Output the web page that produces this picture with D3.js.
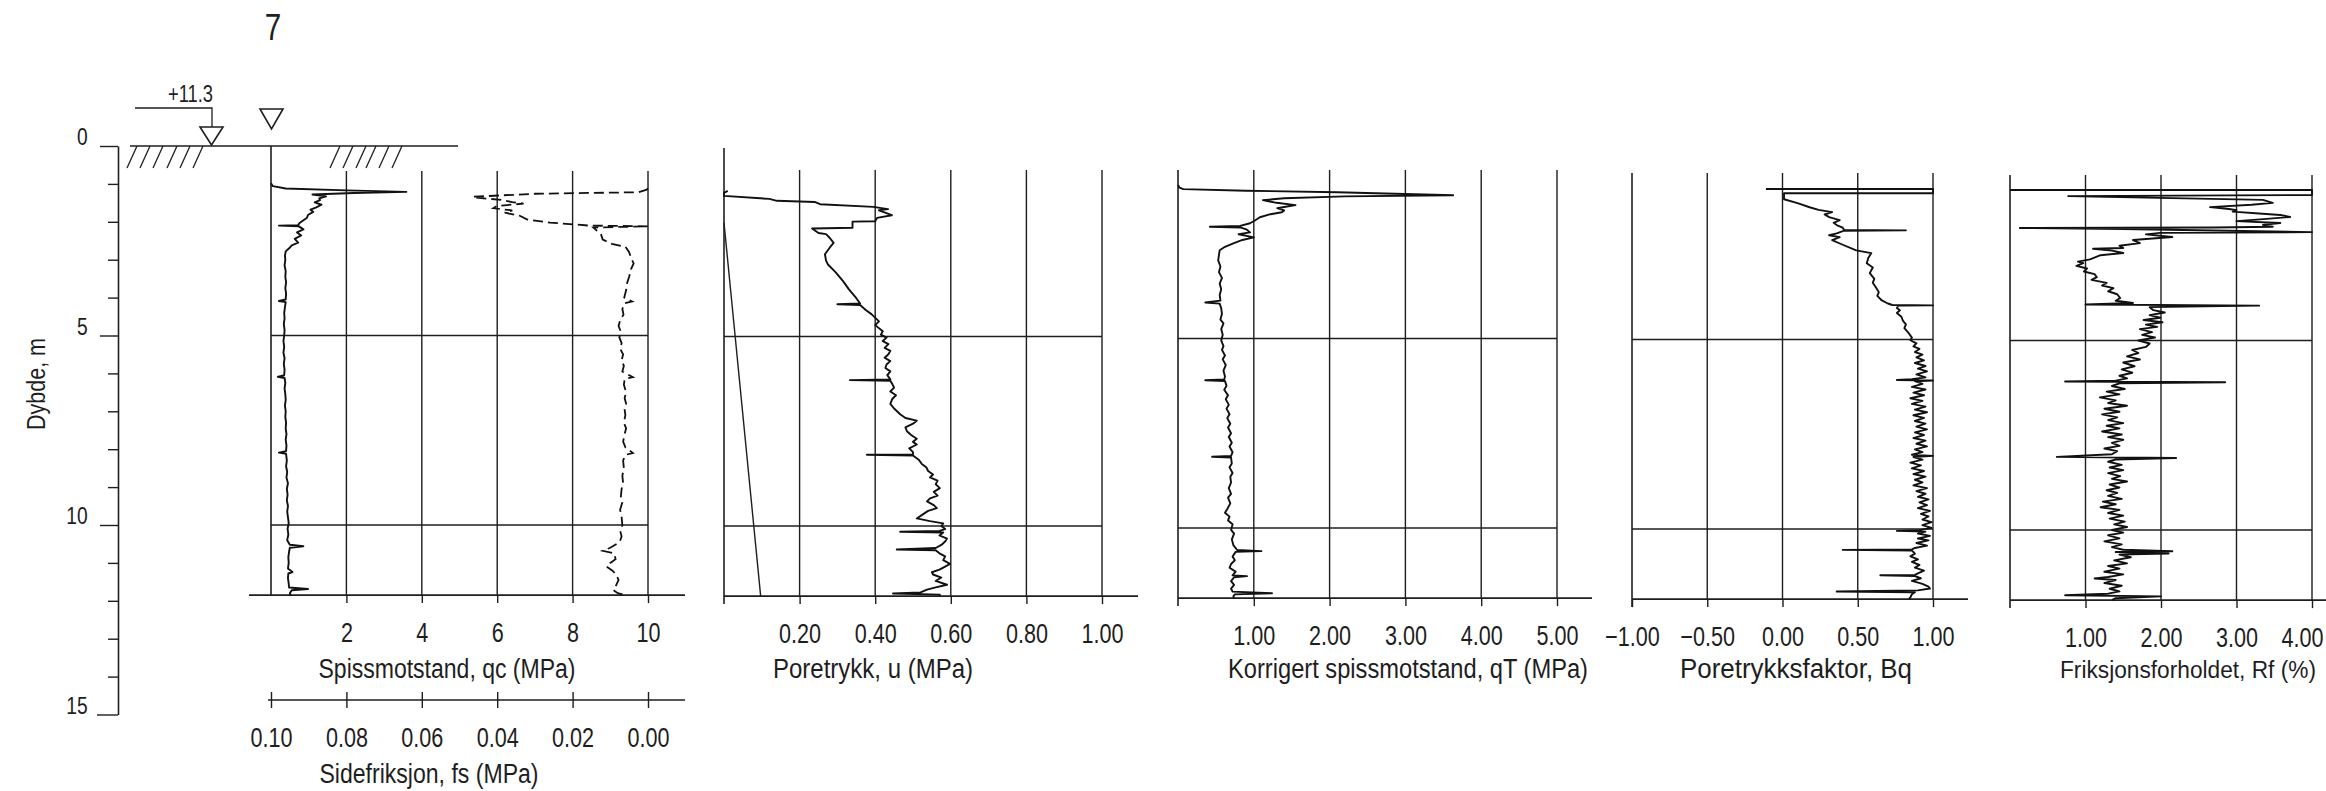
<!DOCTYPE html>
<html><head><meta charset="utf-8">
<script src="https://cdn.jsdelivr.net/npm/d3@7"></script>
<style>
html,body{margin:0;padding:0;background:#fff;}
svg{display:block;}
text{font-family:"Liberation Sans",Arial,"DejaVu Sans",sans-serif;fill:#1e1e1e;}
</style></head><body>
<svg id="chart" width="2326" height="791"></svg>
<script>
// ---------------- DATA ----------------
const sheetNumber = "7";
const elevationLabel = "+11.3";
const depthTicks = [0,1,2,3,4,5,6,7,8,9,10,11,12,13,14,15];
const depthLabels = [0,5,10,15];
const gridDepths = [5,10];
const endDepth = 11.85;
const qcTicks = [2,4,6,8,10];
const fsTicks = [0.10,0.08,0.06,0.04,0.02,0.00];
const uTicks = [0.2,0.4,0.6,0.8,1.0];
const qtTicks = [1,2,3,4,5];
const bqTicks = [-1,-0.5,0,0.5,1];
const rfTicks = [1,2,3,4];

// [depth m, qc MPa]
const qcData = [[0.98,0.00],[1.06,0.05],[1.12,0.39],[1.17,2.0],[1.21,3.59],[1.24,2.2],[1.28,1.10],[1.33,1.46],[1.38,1.28],[1.43,1.30],[1.49,1.16],[1.55,1.34],[1.62,1.20],[1.68,1.05],[1.74,1.12],[1.82,0.98],[1.90,0.95],[1.96,0.86],[2.04,0.75],[2.09,0.72],[2.10,0.21],[2.12,0.74],[2.20,0.86],[2.28,0.69],[2.36,0.80],[2.45,0.63],[2.55,0.72],[2.62,0.55],[2.70,0.48],[2.78,0.39],[2.9,0.37],[3.0,0.38],[3.15,0.36],[3.3,0.39],[3.45,0.38],[3.6,0.40],[3.75,0.38],[3.9,0.40],[4.05,0.39],[4.09,0.21],[4.12,0.39],[4.25,0.37],[4.4,0.35],[4.55,0.36],[4.7,0.34],[4.85,0.36],[5.0,0.35],[5.15,0.33],[5.3,0.35],[5.45,0.33],[5.6,0.36],[5.75,0.34],[5.9,0.36],[6.05,0.35],[6.09,0.18],[6.12,0.36],[6.25,0.38],[6.4,0.36],[6.55,0.38],[6.7,0.39],[6.85,0.37],[7.0,0.39],[7.15,0.38],[7.3,0.40],[7.45,0.39],[7.6,0.41],[7.75,0.39],[7.9,0.41],[8.05,0.40],[8.09,0.21],[8.12,0.40],[8.3,0.42],[8.45,0.40],[8.6,0.43],[8.75,0.41],[8.9,0.45],[9.05,0.42],[9.2,0.44],[9.35,0.42],[9.5,0.45],[9.65,0.43],[9.8,0.45],[9.95,0.47],[10.1,0.44],[10.25,0.46],[10.4,0.43],[10.52,0.50],[10.56,0.86],[10.6,0.50],[10.7,0.48],[10.85,0.46],[11.0,0.47],[11.15,0.45],[11.24,0.57],[11.28,0.46],[11.4,0.45],[11.55,0.47],[11.65,0.48],[11.69,0.98],[11.72,0.55],[11.8,0.50],[11.85,0.52]];

// [depth m, fs MPa]
const fsData = [[1.12,0.0],[1.16,0.0005],[1.22,0.0025],[1.26,0.030],[1.34,0.0465],[1.37,0.045],[1.42,0.039],[1.48,0.036],[1.52,0.033],[1.58,0.040],[1.64,0.041],[1.70,0.036],[1.76,0.038],[1.84,0.034],[1.94,0.032],[2.02,0.026],[2.10,0.0156],[2.12,0.0],[2.15,0.0145],[2.24,0.0135],[2.32,0.0125],[2.47,0.012],[2.58,0.0096],[2.66,0.006],[2.8,0.005],[2.95,0.0045],[3.1,0.0038],[3.25,0.0045],[3.45,0.005],[3.6,0.0055],[3.8,0.0058],[4.0,0.0063],[4.1,0.0042],[4.15,0.0062],[4.3,0.0068],[4.45,0.0065],[4.6,0.0074],[4.75,0.0078],[4.9,0.0072],[5.05,0.0076],[5.2,0.0070],[5.35,0.0074],[5.5,0.0066],[5.65,0.0070],[5.8,0.0064],[5.95,0.0068],[6.1,0.0040],[6.15,0.0062],[6.3,0.0064],[6.5,0.0058],[6.65,0.0062],[6.8,0.0058],[6.95,0.0062],[7.1,0.0060],[7.3,0.0064],[7.45,0.0058],[7.6,0.0062],[7.8,0.0066],[7.95,0.0060],[8.1,0.0040],[8.15,0.0060],[8.3,0.0066],[8.5,0.0064],[8.7,0.0068],[8.9,0.0066],[9.05,0.0070],[9.25,0.0072],[9.4,0.0068],[9.6,0.0074],[9.8,0.0070],[10.0,0.0068],[10.15,0.0074],[10.3,0.0070],[10.45,0.0075],[10.6,0.0100],[10.68,0.0120],[10.75,0.0090],[10.9,0.0086],[11.0,0.0100],[11.1,0.0110],[11.2,0.0095],[11.3,0.0085],[11.45,0.0078],[11.6,0.0085],[11.72,0.0092],[11.8,0.0080],[11.85,0.0060]];

// [depth m, u MPa]
const uData = [[1.16,0.01],[1.21,0.0],[1.29,0.0],[1.37,0.12],[1.42,0.14],[1.45,0.24],[1.51,0.254],[1.58,0.395],[1.64,0.434],[1.67,0.41],[1.8,0.444],[1.87,0.405],[1.96,0.40],[1.97,0.34],[2.13,0.34],[2.15,0.233],[2.27,0.25],[2.3,0.27],[2.4,0.28],[2.53,0.29],[2.65,0.28],[2.83,0.267],[3.0,0.27],[3.1,0.275],[3.3,0.295],[3.54,0.315],[3.75,0.33],[3.99,0.35],[4.13,0.36],[4.15,0.30],[4.17,0.36],[4.3,0.375],[4.41,0.39],[4.6,0.41],[4.7,0.40],[4.86,0.42],[4.95,0.415],[5.03,0.43],[5.12,0.42],[5.2,0.435],[5.3,0.425],[5.38,0.44],[5.47,0.435],[5.56,0.425],[5.65,0.44],[5.74,0.43],[5.83,0.427],[5.92,0.44],[6.02,0.432],[6.13,0.44],[6.15,0.333],[6.17,0.44],[6.25,0.445],[6.35,0.45],[6.45,0.44],[6.55,0.455],[6.65,0.445],[6.78,0.44],[6.9,0.45],[7.05,0.466],[7.15,0.48],[7.22,0.51],[7.3,0.50],[7.4,0.48],[7.5,0.484],[7.6,0.495],[7.7,0.51],[7.78,0.50],[7.85,0.51],[7.95,0.49],[8.05,0.50],[8.11,0.50],[8.12,0.378],[8.14,0.50],[8.25,0.515],[8.37,0.524],[8.45,0.535],[8.55,0.54],[8.64,0.553],[8.72,0.545],[8.8,0.565],[8.9,0.56],[9.0,0.571],[9.1,0.555],[9.2,0.565],[9.27,0.545],[9.35,0.537],[9.45,0.555],[9.53,0.563],[9.6,0.54],[9.7,0.525],[9.8,0.51],[9.87,0.545],[9.93,0.58],[10.0,0.575],[10.08,0.585],[10.13,0.57],[10.15,0.466],[10.17,0.58],[10.25,0.57],[10.33,0.59],[10.41,0.585],[10.5,0.575],[10.58,0.56],[10.62,0.457],[10.64,0.56],[10.72,0.57],[10.8,0.585],[10.9,0.58],[11.0,0.598],[11.07,0.585],[11.15,0.57],[11.22,0.55],[11.28,0.553],[11.36,0.575],[11.45,0.56],[11.55,0.59],[11.62,0.56],[11.68,0.537],[11.75,0.52],[11.78,0.447],[11.81,0.571],[11.85,0.57]];

// hydrostatic pore pressure [depth m, u0 MPa]
const u0Data = [[2.0,0.0],[11.85,0.097]];

// [depth m, qT MPa]
const qtData = [[0.95,0.0],[1.02,0.02],[1.06,0.07],[1.10,0.9],[1.14,2.1],[1.22,3.63],[1.25,2.2],[1.30,1.4],[1.35,1.12],[1.42,1.30],[1.48,1.55],[1.53,1.40],[1.56,1.31],[1.62,1.40],[1.67,1.37],[1.72,1.22],[1.80,1.08],[1.88,1.02],[1.96,0.95],[2.03,0.82],[2.05,0.42],[2.07,0.82],[2.12,0.90],[2.20,0.95],[2.25,0.80],[2.33,1.0],[2.40,0.85],[2.49,0.73],[2.58,0.62],[2.67,0.55],[2.8,0.54],[2.94,0.53],[3.1,0.56],[3.25,0.54],[3.4,0.58],[3.55,0.55],[3.7,0.57],[3.85,0.55],[4.0,0.56],[4.05,0.36],[4.08,0.55],[4.2,0.57],[4.35,0.58],[4.5,0.56],[4.6,0.60],[4.75,0.57],[4.9,0.59],[5.05,0.57],[5.2,0.60],[5.3,0.58],[5.45,0.62],[5.55,0.59],[5.7,0.63],[5.85,0.60],[6.0,0.62],[6.08,0.61],[6.1,0.36],[6.12,0.62],[6.25,0.64],[6.35,0.61],[6.5,0.66],[6.6,0.63],[6.75,0.67],[6.85,0.64],[7.0,0.68],[7.1,0.65],[7.25,0.69],[7.35,0.66],[7.5,0.70],[7.6,0.67],[7.75,0.71],[7.85,0.68],[8.0,0.72],[8.1,0.70],[8.12,0.45],[8.14,0.70],[8.3,0.71],[8.4,0.68],[8.55,0.72],[8.65,0.69],[8.8,0.70],[8.95,0.67],[9.1,0.70],[9.2,0.66],[9.35,0.69],[9.5,0.65],[9.6,0.62],[9.7,0.68],[9.8,0.66],[9.9,0.72],[10.05,0.70],[10.15,0.74],[10.3,0.71],[10.45,0.73],[10.58,0.78],[10.61,1.10],[10.63,0.76],[10.75,0.72],[10.85,0.75],[10.95,0.70],[11.05,0.68],[11.15,0.76],[11.25,0.72],[11.27,0.91],[11.3,0.74],[11.4,0.70],[11.5,0.74],[11.6,0.70],[11.68,0.72],[11.72,1.24],[11.75,0.75],[11.8,0.73],[11.85,0.74]];

// [depth m, Bq]
const bqData = [[1.03,-0.11],[1.03,1.0],[1.14,1.0],[1.14,0.01],[1.30,0.01],[1.40,0.10],[1.51,0.18],[1.58,0.24],[1.64,0.33],[1.70,0.28],[1.77,0.31],[1.85,0.38],[1.92,0.34],[1.98,0.36],[2.05,0.40],[2.11,0.41],[2.12,0.82],[2.13,0.41],[2.20,0.36],[2.25,0.31],[2.30,0.38],[2.38,0.33],[2.50,0.40],[2.65,0.49],[2.72,0.59],[2.85,0.57],[2.99,0.56],[3.1,0.60],[3.25,0.58],[3.4,0.61],[3.5,0.60],[3.62,0.62],[3.75,0.64],[3.85,0.63],[3.97,0.66],[4.05,0.70],[4.09,0.73],[4.10,1.0],[4.11,0.77],[4.17,0.76],[4.23,0.78],[4.3,0.76],[4.4,0.79],[4.5,0.80],[4.6,0.82],[4.7,0.81],[4.84,0.84],[4.95,0.86],[5.02,0.85],[5.1,0.89],[5.18,0.87],[5.25,0.91],[5.33,0.88],[5.4,0.93],[5.47,0.89],[5.55,0.94],[5.62,0.88],[5.7,0.95],[5.77,0.90],[5.84,0.96],[5.92,0.89],[6.0,0.95],[6.05,0.86],[6.07,0.76],[6.08,1.0],[6.1,0.88],[6.17,0.93],[6.25,0.86],[6.32,0.95],[6.4,0.87],[6.47,0.94],[6.55,0.85],[6.62,0.93],[6.7,0.86],[6.77,0.95],[6.85,0.88],[6.92,0.96],[7.0,0.87],[7.07,0.94],[7.15,0.88],[7.22,0.95],[7.3,0.89],[7.37,0.96],[7.45,0.88],[7.52,0.94],[7.6,0.87],[7.67,0.95],[7.75,0.89],[7.82,0.96],[7.9,0.88],[7.97,0.93],[8.04,0.86],[8.07,1.0],[8.1,0.87],[8.17,0.93],[8.25,0.85],[8.32,0.92],[8.4,0.86],[8.47,0.94],[8.55,0.87],[8.62,0.95],[8.7,0.88],[8.77,0.93],[8.85,0.87],[8.92,0.96],[9.0,0.89],[9.07,0.95],[9.15,0.90],[9.22,0.97],[9.3,0.91],[9.37,0.96],[9.45,0.90],[9.52,0.98],[9.6,0.92],[9.67,0.97],[9.75,0.93],[9.82,0.99],[9.9,0.93],[9.97,0.99],[10.03,0.91],[10.05,0.76],[10.07,0.95],[10.12,0.90],[10.18,0.98],[10.25,0.90],[10.3,0.97],[10.37,0.89],[10.44,0.96],[10.5,0.88],[10.54,0.86],[10.55,0.40],[10.57,0.86],[10.65,0.88],[10.72,0.85],[10.8,0.90],[10.87,0.86],[10.95,0.91],[11.02,0.88],[11.1,0.94],[11.17,0.90],[11.21,0.88],[11.22,0.65],[11.24,0.88],[11.3,0.92],[11.37,0.86],[11.45,0.93],[11.52,0.97],[11.57,0.98],[11.62,0.90],[11.65,0.36],[11.67,0.88],[11.72,0.86],[11.8,0.85],[11.85,0.84]];

// [depth m, Rf %]
const rfData = [[1.03,0.0],[1.03,4.0],[1.16,4.0],[1.19,0.77],[1.29,3.35],[1.37,3.48],[1.42,3.2],[1.48,2.65],[1.53,2.9],[1.56,3.0],[1.60,2.95],[1.65,3.3],[1.69,3.58],[1.74,3.71],[1.79,3.4],[1.85,3.0],[1.90,3.58],[1.95,3.35],[2.0,3.48],[2.02,2.7],[2.03,0.13],[2.06,1.5],[2.14,4.0],[2.16,1.99],[2.2,1.80],[2.27,2.15],[2.35,1.63],[2.43,1.72],[2.5,1.45],[2.56,1.5],[2.58,1.10],[2.63,1.35],[2.69,1.5],[2.75,1.2],[2.86,1.06],[2.92,0.90],[2.96,0.97],[3.03,0.88],[3.1,1.02],[3.18,0.98],[3.25,1.12],[3.33,1.15],[3.4,1.08],[3.48,1.28],[3.55,1.22],[3.62,1.37],[3.7,1.30],[3.78,1.42],[3.88,1.46],[3.95,1.40],[4.01,1.63],[4.05,1.0],[4.08,3.3],[4.12,1.85],[4.2,1.90],[4.26,2.05],[4.33,1.85],[4.4,1.99],[4.46,1.77],[4.52,2.02],[4.58,1.80],[4.64,1.95],[4.7,1.72],[4.78,1.88],[4.85,1.75],[4.92,1.92],[5.0,1.70],[5.08,1.85],[5.17,1.80],[5.25,1.62],[5.33,1.70],[5.42,1.55],[5.5,1.72],[5.58,1.50],[5.68,1.65],[5.76,1.48],[5.85,1.62],[5.93,1.45],[6.0,1.55],[6.06,1.40],[6.08,0.73],[6.1,2.85],[6.13,1.45],[6.2,1.35],[6.28,1.52],[6.35,1.28],[6.42,1.45],[6.5,1.19],[6.58,1.40],[6.65,1.30],[6.72,1.55],[6.8,1.25],[6.88,1.45],[6.95,1.22],[7.03,1.42],[7.1,1.30],[7.18,1.50],[7.25,1.28],[7.32,1.45],[7.4,1.22],[7.48,1.48],[7.55,1.30],[7.62,1.50],[7.7,1.35],[7.78,1.45],[7.85,1.25],[7.92,1.42],[8.0,1.35],[8.07,0.62],[8.1,2.2],[8.14,1.40],[8.2,1.30],[8.28,1.48],[8.35,1.32],[8.42,1.50],[8.5,1.30],[8.58,1.46],[8.65,1.35],[8.72,1.55],[8.8,1.32],[8.88,1.45],[8.95,1.28],[9.02,1.42],[9.1,1.30],[9.18,1.48],[9.25,1.23],[9.32,1.40],[9.4,1.20],[9.47,1.45],[9.55,1.30],[9.62,1.50],[9.7,1.32],[9.78,1.52],[9.85,1.38],[9.92,1.55],[10.0,1.35],[10.07,1.50],[10.14,1.30],[10.22,1.45],[10.3,1.25],[10.38,1.48],[10.45,1.35],[10.52,1.50],[10.56,2.15],[10.58,1.40],[10.62,2.10],[10.65,1.45],[10.72,1.60],[10.8,1.38],[10.88,1.55],[10.95,1.30],[11.02,1.45],[11.1,1.25],[11.17,1.50],[11.24,1.30],[11.28,1.12],[11.32,1.40],[11.4,1.25],[11.47,1.48],[11.55,1.32],[11.62,1.45],[11.68,1.30],[11.72,0.73],[11.75,2.0],[11.8,1.40],[11.85,1.35]];

// ---------------- LAYOUT ----------------
const Y0 = 146, PXM = 37.9;
const INK = "#1e1e1e";
const svg = d3.select("#chart");
const FS = 27, SX = 0.8;   // font size, horizontal squeeze (narrow drafting lettering)

const panels = [
  {data:qcData, domain:[0,10], x0:271, x1:648, off:0, gtop:171, axisTop:146, lineL:249, lineR:685, ticks:qcTicks, fmt:"d", leftTick:false, title:"Spissmotstand, qc (MPa)", titleX:447, titleW:257},
  {data:uData, domain:[0,1], x0:724, x1:1102, off:1, gtop:170, axisTop:148, lineL:724, lineR:1138, ticks:uTicks, fmt:".2f", leftTick:true, title:"Poretrykk, u (MPa)", titleX:873, titleW:200, extra:u0Data},
  {data:qtData, domain:[0,5], x0:1178, x1:1557, off:3, gtop:170, axisTop:170, lineL:1178, lineR:1592, ticks:qtTicks, fmt:".2f", leftTick:true, title:"Korrigert spissmotstand, qT (MPa)", titleX:1408, titleW:360},
  {data:bqData, domain:[-1,1], x0:1632, x1:1933, off:4, gtop:173, axisTop:173, lineL:1632, lineR:1968, ticks:bqTicks, fmt:".2f", leftTick:true, title:"Poretrykksfaktor, Bq", titleX:1796, titleW:232},
  {data:rfData, domain:[0,4], x0:2010, x1:2312, off:5, gtop:175, axisTop:175, lineL:2010, lineR:2326, ticks:rfTicks, fmt:".2f", leftTick:true, title:"Friksjonsforholdet, Rf (%)", titleX:2060, titleW:256, titleFS:23, titleAnchor:"start", lastEnd:2323}
];

function ln(g, x1, y1, x2, y2, w){
  return g.append("line").attr("x1",x1).attr("y1",y1).attr("x2",x2).attr("y2",y2)
    .attr("stroke",INK).attr("stroke-width",w||1.4);
}
function title(g, x, y, txt, w, anchor, fs){
  return g.append("text").attr("x",x).attr("y",y).attr("text-anchor",anchor||"middle")
    .attr("font-size",fs||FS).attr("textLength",w).attr("lengthAdjust","spacingAndGlyphs").text(txt);
}

panels.forEach((p,i) => {
  const x = d3.scaleLinear().domain(p.domain).range([p.x0,p.x1]);
  const y = d3.scaleLinear().domain([0,15]).range([Y0+p.off, Y0+p.off+PXM*15]);
  p.xs = x; p.ys = y;
  const yb = y(endDepth);
  const g = svg.append("g");
  p.ticks.filter(t => t !== p.domain[0]).forEach(t => ln(g, x(t), p.gtop, x(t), yb, 1.4));
  ln(g, x(p.domain[0]), p.axisTop, x(p.domain[0]), yb + (p.leftTick ? 8 : 0), 1.6);
  gridDepths.forEach(d => ln(g, x(p.domain[0]), y(d), x(p.domain[1]), y(d), 1.4));
  ln(g, p.lineL, yb, p.lineR, yb, 1.8);
  const ax = d3.axisBottom(x).tickValues(p.ticks).tickSize(8).tickPadding(20)
    .tickFormat(d3.format(p.fmt)).tickSizeOuter(0);
  const ag = g.append("g").attr("transform",`translate(0,${yb})`).call(ax)
    .attr("font-size",FS).attr("font-family",null).attr("color",INK);
  ag.select(".domain").remove();
  ag.selectAll(".tick line").attr("stroke-width",1.4);
  ag.selectAll(".tick text").attr("transform",`scale(${SX},1)`);
  if (p.lastEnd) {
    const last = p.ticks[p.ticks.length-1];
    ag.selectAll(".tick text").filter(d => d === last)
      .attr("text-anchor","end").attr("x",(p.lastEnd - x(last))/SX);
  }
  title(g, p.titleX, 678, p.title, p.titleW, p.titleAnchor, p.titleFS);
  const line = d3.line().x(d => x(d[1])).y(d => y(d[0]));
  if (p.extra) g.append("path").datum(p.extra).attr("d",line).attr("fill","none").attr("stroke",INK).attr("stroke-width",1.4);
  g.append("path").datum(p.data).attr("d",line).attr("fill","none")
    .attr("stroke","#111").attr("stroke-width",1.9).attr("stroke-linejoin","round");
});

// ---- panel 1 extras: side friction (dashed) on reversed scale ----
const p1 = panels[0];
const xfs = d3.scaleLinear().domain([0.10,0.0]).range([p1.x0,p1.x1]);
svg.append("path").datum(fsData)
  .attr("d", d3.line().x(d => xfs(d[1])).y(d => p1.ys(d[0])))
  .attr("fill","none").attr("stroke","#111").attr("stroke-width",1.8).attr("stroke-dasharray","10,5");

const fsY = 700;
const fg = svg.append("g");
ln(fg, 268, fsY, 685, fsY, 1.6);
const fax = d3.axisBottom(xfs).tickValues(fsTicks).tickSize(16).tickPadding(0)
  .tickFormat(d3.format(".2f")).tickSizeOuter(0);
const fag = fg.append("g").attr("transform",`translate(0,${fsY})`).call(fax)
  .attr("font-size",FS).attr("font-family",null).attr("color",INK);
fag.select(".domain").remove();
fag.selectAll(".tick line").attr("y1",-8).attr("y2",8).attr("stroke-width",1.4);
fag.selectAll(".tick text").attr("y",47).attr("dy",null).attr("transform",`scale(${SX},1)`);
title(fg, 429, 783, "Sidefriksjon, fs (MPa)", 219);

// depth axis
const yDepth = d3.scaleLinear().domain([0,15]).range([Y0, Y0+PXM*15]);
const dax = d3.axisLeft(yDepth).tickValues(depthTicks).tickSize(10).tickPadding(28).tickSizeOuter(0)
  .tickFormat(d => depthLabels.includes(d) ? d : "");
const dg = svg.append("g").attr("transform","translate(118,0)").call(dax)
  .attr("font-size",24).attr("font-family",null).attr("color",INK);
dg.select(".domain").attr("stroke-width",1.6);
dg.selectAll(".tick line").attr("stroke-width",1.4)
  .attr("x2", d => depthLabels.includes(d) ? (d===15 ? -21 : -18) : -10);
dg.selectAll(".tick text").attr("dy","-0.06em").attr("transform",`scale(${SX},1)`);
svg.append("text").attr("transform","translate(45,384) rotate(-90)").attr("text-anchor","middle")
  .attr("font-size",25).attr("textLength",92).attr("lengthAdjust","spacingAndGlyphs").text("Dybde, m");

// ground surface, hatching, water-level symbols
const groundG = svg.append("g");
ln(groundG, 130, Y0, 458, Y0, 1.6);
[127,140,153,167,180,193,330,343,356,366,379,392].forEach(bx => ln(groundG, bx, Y0+22, bx+10, Y0, 1.3));
groundG.append("path").attr("d","M135,108 H212 V127").attr("fill","none").attr("stroke",INK).attr("stroke-width",1.3);
groundG.append("path").attr("d","M200,127 H223 L211.5,145 Z").attr("fill","none").attr("stroke",INK).attr("stroke-width",1.6);
groundG.append("path").attr("d","M260,109 H283 L271.5,129 Z").attr("fill","none").attr("stroke",INK).attr("stroke-width",1.6);
groundG.append("text").attr("x",213).attr("y",102).attr("text-anchor","end").attr("font-size",23)
  .attr("textLength",45).attr("lengthAdjust","spacingAndGlyphs").text(elevationLabel);
svg.append("text").attr("transform","translate(273,40) scale(0.8,1)").attr("text-anchor","middle").attr("font-size",37).text(sheetNumber);
</script>
</body></html>
